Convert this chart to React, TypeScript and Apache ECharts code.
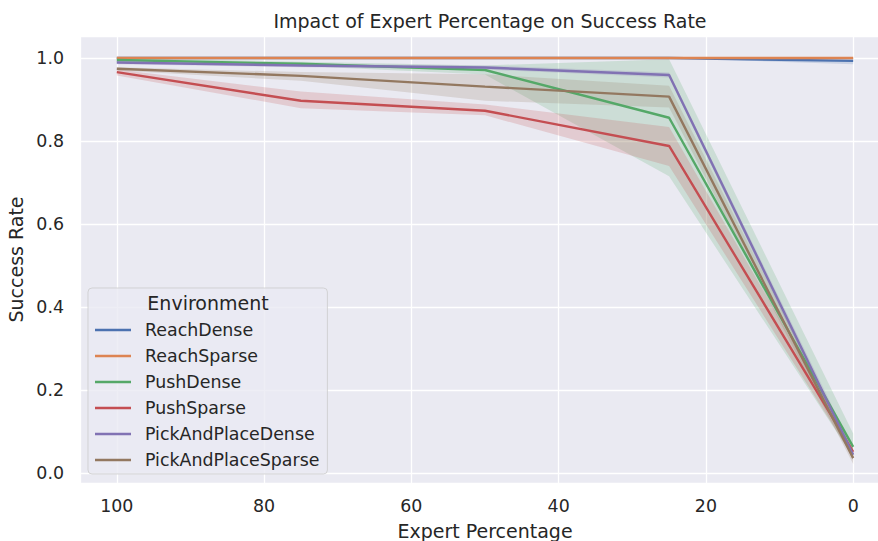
import React, { useEffect, useRef } from "react";
import * as echarts from "echarts";

const expertPct = [100, 75, 50, 25, 0];
const seriesNames = [
  "ReachDense",
  "ReachSparse",
  "PushDense",
  "PushSparse",
  "PickAndPlaceDense",
  "PickAndPlaceSparse",
];
const colors = ["#4C72B0", "#DD8452", "#55A868", "#C44E52", "#8172B3", "#937860"];

const reachDense = [1.0, 1.0, 1.0, 1.0, 0.993];
const reachDenseLo = [1.0, 1.0, 1.0, 1.0, 0.985];
const reachDenseHi = [1.0, 1.0, 1.0, 1.0, 1.0];

const reachSparse = [1.0, 1.0, 1.0, 1.0, 1.0];
const reachSparseLo = [1.0, 1.0, 1.0, 1.0, 1.0];
const reachSparseHi = [1.0, 1.0, 1.0, 1.0, 1.0];

const pushDense = [0.995, 0.986, 0.971, 0.856, 0.063];
const pushDenseLo = [0.99, 0.981, 0.96, 0.715, 0.038];
const pushDenseHi = [1.0, 0.991, 0.982, 0.997, 0.095];

const pushSparse = [0.966, 0.897, 0.873, 0.788, 0.051];
const pushSparseLo = [0.958, 0.879, 0.862, 0.74, 0.038];
const pushSparseHi = [0.972, 0.919, 0.888, 0.834, 0.064];

const pickDense = [0.989, 0.982, 0.977, 0.959, 0.044];
const pickDenseLo = [0.985, 0.978, 0.972, 0.953, 0.03];
const pickDenseHi = [0.993, 0.986, 0.982, 0.965, 0.058];

const pickSparse = [0.974, 0.957, 0.931, 0.907, 0.036];
const pickSparseLo = [0.97, 0.945, 0.897, 0.881, 0.022];
const pickSparseHi = [0.978, 0.966, 0.961, 0.933, 0.05];

const means = [reachDense, reachSparse, pushDense, pushSparse, pickDense, pickSparse];
const lows = [reachDenseLo, reachSparseLo, pushDenseLo, pushSparseLo, pickDenseLo, pickSparseLo];
const highs = [reachDenseHi, reachSparseHi, pushDenseHi, pushSparseHi, pickDenseHi, pickSparseHi];

const FONT = "DejaVu Sans";
const TXT = "#262626";
const TICK_FS = 17.4;
const LABEL_FS = 19;

function hexToRgba(hex: string, a: number) {
  const n = parseInt(hex.slice(1), 16);
  return `rgba(${(n >> 16) & 255},${(n >> 8) & 255},${n & 255},${a})`;
}

export default function App() {
  const ref = useRef<HTMLDivElement>(null);
  useEffect(() => {
    document.body.style.margin = "0";
    const chart = echarts.init(ref.current!, undefined, { renderer: "svg" });

    const bandSeries = seriesNames.map((name, i) => {
      const pts = expertPct.map((x, j) => [x, lows[i][j], highs[i][j]]);
      return {
        type: "custom",
        name: name + " CI",
        z: 1,
        silent: true,
        encode: { x: 0, y: [1, 2] },
        data: pts,
        renderItem: (params: any, api: any) => {
          if (params.dataIndex !== 0) return null;
          const upper = pts.map((p) => api.coord([p[0], p[2]]));
          const lower = pts.map((p) => api.coord([p[0], p[1]])).reverse();
          return {
            type: "polygon",
            shape: { points: upper.concat(lower) },
            style: { fill: hexToRgba(colors[i], 0.2), stroke: "none" },
          };
        },
      };
    });

    const lineSeries = seriesNames.map((name, i) => ({
      type: "line",
      name,
      z: 2,
      showSymbol: false,
      symbol: "none",
      lineStyle: { color: colors[i], width: 2.4 },
      itemStyle: { color: colors[i] },
      data: expertPct.map((x, j) => [x, means[i][j]]),
    }));

    chart.setOption({
      animation: false,
      backgroundColor: "#ffffff",
      title: {
        text: "Impact of Expert Percentage on Success Rate",
        left: 485,
        textAlign: "center",
        top: 6,
        textStyle: { fontFamily: FONT, fontSize: LABEL_FS, fontWeight: "normal", color: TXT },
      },
      grid: {
        left: 80,
        top: 36,
        width: 810,
        height: 447,
        show: true,
        backgroundColor: "#EAEAF2",
        borderWidth: 0,
        containLabel: false,
        outerBoundsMode: "none",
      },
      xAxis: {
        type: "value",
        inverse: true,
        min: -5,
        max: 105,
        splitNumber: 5,
        name: "Expert Percentage",
        nameLocation: "middle",
        nameGap: 38,
        nameTextStyle: { fontFamily: FONT, fontSize: LABEL_FS, color: TXT },
        axisLine: { show: false },
        axisTick: { show: false },
        axisLabel: {
          showMinLabel: false,
          showMaxLabel: false,
          fontFamily: FONT,
          fontSize: TICK_FS,
          color: TXT,
          margin: 14,
          formatter: (v: number) => String(Math.round(v)),
        },
        splitLine: { show: true, lineStyle: { color: "#ffffff", width: 1.3 } },
      },
      yAxis: {
        type: "value",
        min: -0.024,
        max: 1.053,
        splitNumber: 5,
        name: "Success Rate",
        nameLocation: "middle",
        nameGap: 50,
        nameTextStyle: { fontFamily: FONT, fontSize: LABEL_FS, color: TXT },
        axisLine: { show: false },
        axisTick: { show: false },
        axisLabel: {
          showMinLabel: false,
          showMaxLabel: false,
          fontFamily: FONT,
          fontSize: TICK_FS,
          color: TXT,
          margin: 16,
          formatter: (v: number) => v.toFixed(1),
        },
        splitLine: { show: true, lineStyle: { color: "#ffffff", width: 1.3 } },
      },
      legend: {
        data: seriesNames,
        orient: "vertical",
        left: 88,
        top: 288,
        padding: [33, 8, 5, 7],
        itemGap: 8,
        itemWidth: 36,
        itemHeight: 2.5,
        icon: "rect",
        backgroundColor: "rgba(234,234,242,0.8)",
        borderColor: "rgba(204,204,204,0.8)",
        borderWidth: 1,
        borderRadius: 4,
        selectedMode: false,
        textStyle: {
          fontFamily: FONT,
          fontSize: TICK_FS,
          color: TXT,
          lineHeight: 18,
          padding: [0, 0, 0, 9],
        },
      },
      graphic: [
        {
          type: "text",
          x: 208,
          y: 303,
          z: 100,
          style: {
            text: "Environment",
            fontFamily: FONT,
            fontSize: LABEL_FS,
            fill: TXT,
            align: "center",
            verticalAlign: "middle",
          },
        },
      ],
      series: [...bandSeries, ...lineSeries],
    });
    return () => chart.dispose();
  }, []);
  return <div ref={ref} style={{ width: 878, height: 541 }} />;
}
